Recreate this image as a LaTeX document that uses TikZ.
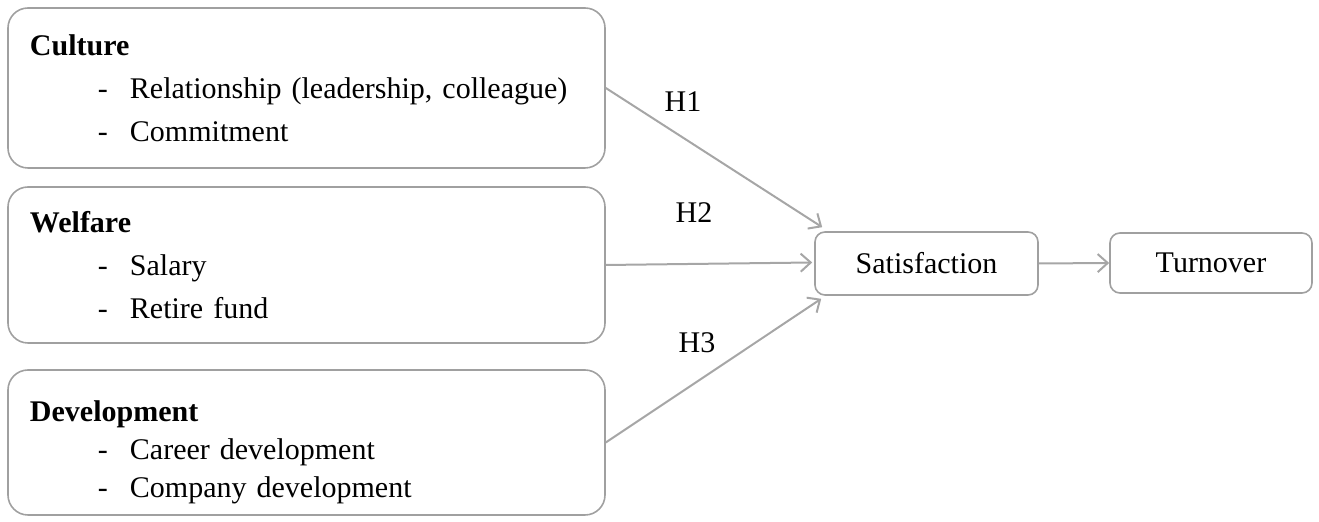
\documentclass[tikz,border=0pt]{standalone}
\usepackage{fontspec}
\setmainfont{Liberation Serif}
\usetikzlibrary{arrows.meta,calc}
\definecolor{linegray}{HTML}{A6A6A6}
\definecolor{boxgray}{HTML}{A0A0A0}
\newcommand{\dashitem}[1]{\hspace*{34pt}\makebox[16pt][l]{-}#1}
\tikzset{
  factorbox/.style = {draw=boxgray,line width=0.8pt,rounded corners=10pt,
                      text width=276.5pt,align=left,inner xsep=11pt,
                      font=\fontsize{15}{21.5}\selectfont},
  smallbox/.style  = {draw=boxgray,line width=0.8pt,rounded corners=5pt,
                      font=\fontsize{15}{18}\selectfont},
  patharr/.style   = {-{Straight Barb[length=5pt,width=9pt]},linegray,line width=1pt},
  hlabel/.style    = {font=\fontsize{15}{18}\selectfont}
}

\begin{document}
\begin{tikzpicture}[x=0.5pt,y=-0.5pt]
  \useasboundingbox (0,0) rectangle (1319,522);
  % factor boxes
  \node[factorbox,minimum height=80pt] (culture) at (306.5,88)
       {\textbf{Culture}\\ \dashitem{Relationship (leadership, colleague)}\\ \dashitem{Commitment}};
  \node[factorbox,minimum height=78pt] (welfare) at (306.5,265)
       {\textbf{Welfare}\\ \dashitem{Salary}\\ \dashitem{Retire fund}};
  \node[factorbox,minimum height=72.5pt,inner ysep=2pt,font=\fontsize{15}{19}\selectfont] (devel) at (306.5,442.5)
       {\rule{0pt}{20pt}\textbf{Development}\\ \dashitem{Career development}\\ \dashitem{Company development}};
  % outcome boxes
  \node[smallbox,minimum width=111.5pt,minimum height=31.5pt] (satis) at (926.5,263.5) {Satisfaction};
  \node[smallbox,minimum width=101pt,minimum height=30pt] (turnover) at (1211,263) {Turnover};
  % hypotheses
  \draw[patharr] (culture.east) -- ($(satis.north west)+(8,-4)$);
  \draw[patharr] (welfare.east) -- ($(satis.west)+(-2,-1)$);
  \draw[patharr] (devel.east) -- ($(satis.south west)+(7,3)$);
  \draw[patharr] (satis.east) -- (turnover.west);
  \node[hlabel] (h1) at (683,102) {H1};
  \node[hlabel] (h2) at (694,213) {H2};
  \node[hlabel] (h3) at (697,343) {H3};
\end{tikzpicture}
\end{document}
